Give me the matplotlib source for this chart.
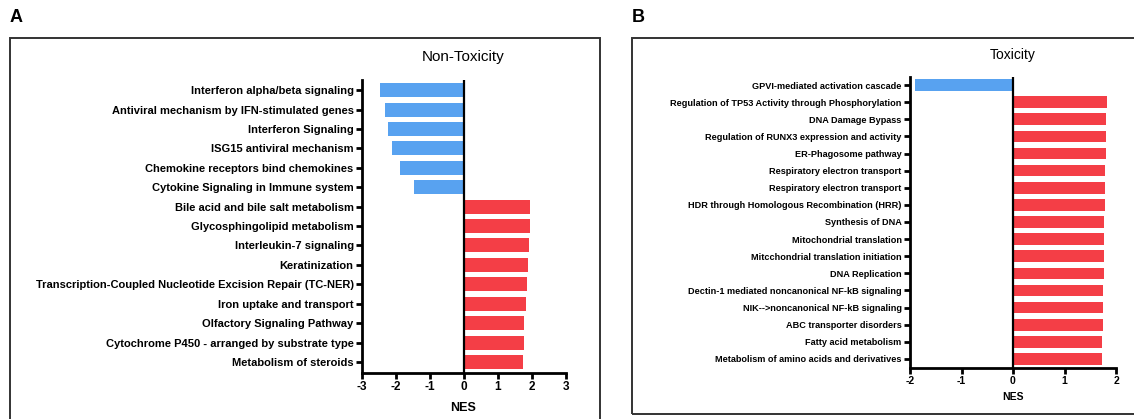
import matplotlib
matplotlib.use("Agg")
import matplotlib.pyplot as plt
from matplotlib.patches import Rectangle

plt.rcParams['font.family'] = ['Liberation Sans', 'DejaVu Sans']

# ---- data ----
nontox_labels = [
    "Interferon alpha/beta signaling",
    "Antiviral mechanism by IFN-stimulated genes",
    "Interferon Signaling",
    "ISG15 antiviral mechanism",
    "Chemokine receptors bind chemokines",
    "Cytokine Signaling in Immune system",
    "Bile acid and bile salt metabolism",
    "Glycosphingolipid metabolism",
    "Interleukin-7 signaling",
    "Keratinization",
    "Transcription-Coupled Nucleotide Excision Repair (TC-NER)",
    "Iron uptake and transport",
    "Olfactory Signaling Pathway",
    "Cytochrome P450 - arranged by substrate type",
    "Metabolism of steroids",
]
nontox_nes = [-2.48, -2.33, -2.25, -2.13, -1.89, -1.47,
              1.94, 1.94, 1.92, 1.88, 1.86, 1.83, 1.77, 1.77, 1.73]

tox_labels = [
    "GPVI-mediated activation cascade",
    "Regulation of TP53 Activity through Phosphorylation",
    "DNA Damage Bypass",
    "Regulation of RUNX3 expression and activity",
    "ER-Phagosome pathway",
    "Respiratory electron transport",
    "Respiratory electron transport",
    "HDR through Homologous Recombination (HRR)",
    "Synthesis of DNA",
    "Mitochondrial translation",
    "Mitcchondrial translation initiation",
    "DNA Replication",
    "Dectin-1 mediated noncanonical NF-kB signaling",
    "NIK-->noncanonical NF-kB signaling",
    "ABC transporter disorders",
    "Fatty acid metabolism",
    "Metabolism of amino acids and derivatives",
]
tox_nes = [-1.90, 1.83, 1.81, 1.81, 1.81, 1.78, 1.78, 1.78, 1.76, 1.76,
           1.76, 1.76, 1.75, 1.75, 1.74, 1.72, 1.72]

nontox_ticks = [-3, -2, -1, 0, 1, 2, 3]
tox_ticks = [-2, -1, 0, 1, 2]

BLUE = "#58A2F0"
RED = "#F43E46"

W, H = 1134, 419
fig = plt.figure(figsize=(W / 100, H / 100), dpi=100)
fig.patch.set_facecolor("white")


def fx(px):
    return px / W


def fy(py):
    return 1 - py / H


# panel boxes
fig.patches.append(Rectangle((fx(10), fy(425)), fx(600) - fx(10), fy(38) - fy(425),
                             transform=fig.transFigure, fill=False,
                             edgecolor="#333333", linewidth=1.4))
fig.patches.append(Rectangle((fx(632), fy(414)), fx(1140) - fx(632), fy(38) - fy(414),
                             transform=fig.transFigure, fill=False,
                             edgecolor="#333333", linewidth=1.4))
fig.text(fx(10), fy(18), "A", fontsize=13, fontweight="bold", va="center", ha="left")
fig.text(fx(632), fy(18), "B", fontsize=13, fontweight="bold", va="center", ha="left")


def draw(ax, labels, vals, ticks, lab_fs, tick_fs, height):
    y = list(range(len(labels)))
    colors = [BLUE if v < 0 else RED for v in vals]
    ax.barh(y, vals, height=height, color=colors, edgecolor="none")
    ax.axvline(0, color="black", linewidth=1.6)
    ax.set_yticks(y)
    ax.set_yticklabels(labels, fontsize=lab_fs, fontweight="bold")
    ax.set_xticks(ticks)
    ax.set_xticklabels([str(t) for t in ticks], fontsize=tick_fs, fontweight="bold")
    ax.set_xlim(ticks[0], ticks[-1])
    for s in ["top", "right"]:
        ax.spines[s].set_visible(False)
    for s in ["left", "bottom"]:
        ax.spines[s].set_linewidth(2)
    ax.tick_params(axis="both", width=2, length=4, pad=2)
    ax.set_facecolor("none")


# Panel A
axA = fig.add_axes([fx(362), fy(373), fx(566) - fx(362), fy(80) - fy(373)])
draw(axA, nontox_labels, nontox_nes, nontox_ticks, 8.0, 8.5, 0.72)
axA.set_ylim(14.57, -0.52)
fig.text(fx(463), fy(57), "Non-Toxicity", fontsize=11, ha="center", va="center")
fig.text(fx(463), fy(408), "NES", fontsize=9, ha="center", va="center", fontweight="bold")

# Panel B
axB = fig.add_axes([fx(910), fy(368), fx(1116) - fx(910), fy(77) - fy(368)])
draw(axB, tox_labels, tox_nes, tox_ticks, 6.6, 7.5, 0.68)
axB.set_ylim(16.53, -0.47)
fig.text(fx(1013), fy(55), "Toxicity", fontsize=10, ha="center", va="center")
fig.text(fx(1013), fy(397), "NES", fontsize=7.5, ha="center", va="center", fontweight="bold")

fig.savefig("out.png", dpi=100, facecolor="white")
